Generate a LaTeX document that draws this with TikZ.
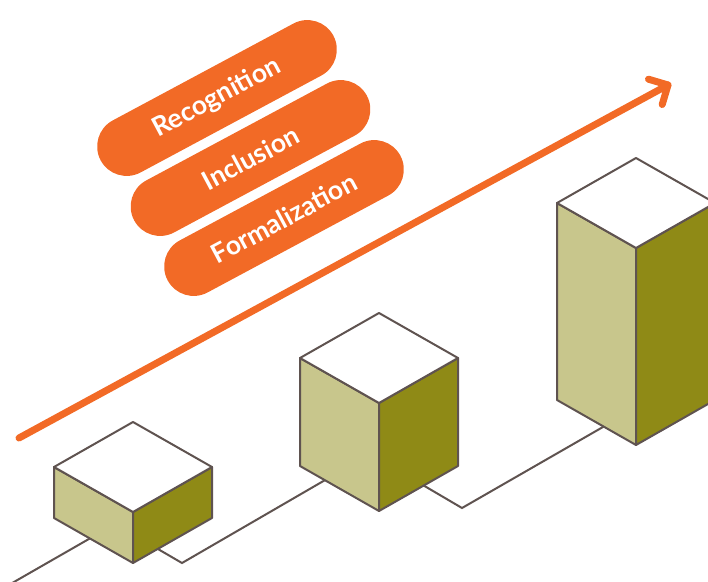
\documentclass[tikz,border=0pt]{standalone}
\usepackage{fontspec}
\setmainfont{Lato}
\definecolor{accent}{RGB}{242,106,38}
\definecolor{faceleft}{RGB}{200,198,140}
\definecolor{faceright}{RGB}{143,138,22}
\definecolor{edge}{RGB}{95,83,80}

% isometric block: name, x and y of the front top corner, height
\newcommand\isoblock[4]{%
  \coordinate (#1) at (#2,#3);
  \filldraw[blockedge, fill=faceleft]  (#1) -- ++(-79,-45) -- ++(0,#4) -- ++(79,45) -- cycle;
  \filldraw[blockedge, fill=faceright] (#1) -- ++(79,-45) -- ++(0,#4) -- ++(-79,45) -- cycle;
  \filldraw[blockedge, fill=white]     (#1) -- ++(-79,-45) -- ++(79,-45) -- ++(79,45) -- cycle;
}

\begin{document}
\begin{tikzpicture}[x=1pt, y=-1pt,
  blockedge/.style={draw=edge, line width=2pt, line join=round},
  trail/.style={draw=edge, line width=2pt, line join=miter},
  growth/.style={draw=accent, line width=7pt, line cap=round, line join=round},
  pill/.style={rectangle, fill=accent, rounded corners=29.5pt,
    minimum width=264pt, minimum height=59pt, inner sep=0pt, rotate=28.2,
    text=white, font=\bfseries\fontsize{26.5}{26.5}\selectfont}]
\useasboundingbox (0,0) rectangle (708,581);
\clip (0,0) rectangle (708,581);

% zig-zag trail running under the blocks
\coordinate (w0) at (0,590);
\coordinate (w1) at (115,524);
\coordinate (w2) at (182,563);
\coordinate (w3) at (370,454);
\coordinate (w4) at (462,508);
\coordinate (w5) at (636,408);
\draw[trail] (w0) -- (w1) -- (w2) -- (w3) -- (w4) -- (w5);

% the three blocks
\isoblock{b1}{133}{512}{51}
\isoblock{b2}{379}{403}{108}
\isoblock{b3}{636}{248}{197}

% rising arrow
\coordinate (a0) at (19,438);
\coordinate (a1) at (668,85);
\draw[growth] (a0) -- (a1);
\draw[growth] ([shift={(-19.5,-5.8)}]a1) -- (a1) -- ([shift={(-5.8,19.5)}]a1);

% stage labels
\node[pill] (p1) at (217,98)  {Recognition};
\node[pill] (p2) at (250.5,158) {Inclusion};
\node[pill] (p3) at (284,218) {Formalization};
\end{tikzpicture}
\end{document}
